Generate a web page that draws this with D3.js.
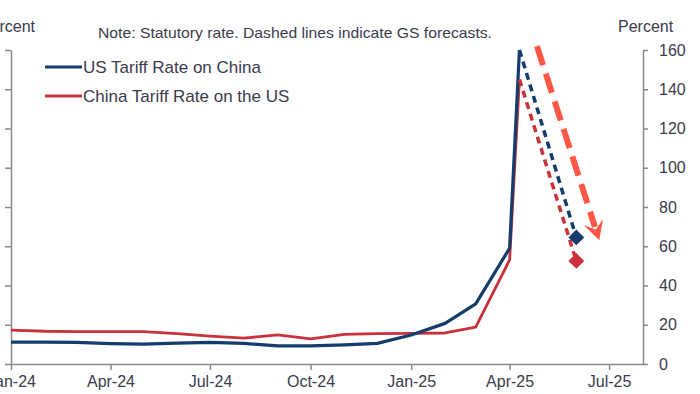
<!DOCTYPE html>
<html>
<head>
<meta charset="utf-8">
<script src="https://cdn.jsdelivr.net/npm/d3@7"></script>
<style>
  body { margin: 0; background: #fff; }
  text { font-family: "Liberation Sans", Arial, sans-serif; fill: #3b3b4d; }
</style>
</head>
<body>
<div id="chart"></div>
<script>
// Monthly observations (first of month) plus the April 10 peak
const dates = ["2024-01-01", "2024-02-01", "2024-03-01", "2024-04-01", "2024-05-01", "2024-06-01",
  "2024-07-01", "2024-08-01", "2024-09-01", "2024-10-01", "2024-11-01", "2024-12-01",
  "2025-01-01", "2025-02-01", "2025-03-01", "2025-04-01", "2025-04-10"];
const usOnChina = [11.1, 11.1, 11.0, 10.4, 10.1, 10.6, 11.0, 10.5, 9.2, 9.2, 9.7, 10.5, 14.8, 20.7, 30.6, 59, 160];
const chinaOnUs = [17.3, 16.7, 16.5, 16.5, 16.5, 15.5, 14.2, 13.2, 14.8, 12.8, 15.1, 15.5, 15.6, 15.8, 18.8, 53, 145];

// GS forecasts (dashed, from the peak)
const forecastDates = ["2025-04-10", "2025-06-01"];
const usForecast = [160, 64.5];
const chinaForecast = [145, 52.5];

// big annotation arrow (date, percent)
const arrowDates = ["2025-04-26", "2025-06-22"];
const arrowValues = [162, 63];

const yTicks = [0, 20, 40, 60, 80, 100, 120, 140, 160];

const parse = d3.timeParse("%Y-%m-%d");
const width = 700, height = 394;
const blue = "#143c6c", red = "#c9323b", arrowCol = "#ff5646";

const svg = d3.select("#chart").append("svg")
  .attr("width", width)
  .attr("height", height);

const x = d3.scaleTime()
  .domain([parse("2024-01-01"), parse("2025-08-01")])
  .range([11, 643]);

const y = d3.scaleLinear()
  .domain([0, 160])
  .range([364, 50]);

// Axes
const axisColor = "#8a8a8a";

const gx = svg.append("g")
  .attr("transform", "translate(0,364)")
  .call(d3.axisBottom(x).ticks(d3.timeMonth.every(3)).tickFormat(d3.timeFormat("%b-%y")).tickSize(6).tickSizeOuter(0).tickPadding(6));
gx.selectAll("text").style("font-size", "16px");

const gl = svg.append("g")
  .attr("transform", "translate(11,0)")
  .call(d3.axisLeft(y).tickValues(yTicks).tickFormat("").tickSize(6).tickSizeOuter(0));

const gr = svg.append("g")
  .attr("transform", "translate(643,0)")
  .call(d3.axisRight(y).tickValues(yTicks).tickSize(5).tickSizeOuter(0).tickPadding(11));
gr.selectAll("text").style("font-size", "16px").attr("text-anchor", "start");

[gx, gl, gr].forEach(g => {
  g.selectAll("path, line").attr("stroke", axisColor).attr("stroke-width", 1.5);
  g.selectAll("text").attr("fill", "#3b3b4d").style("font-family", "'Liberation Sans', Arial, sans-serif");
});

// Series
const line = d3.line()
  .x(d => x(d.date))
  .y(d => y(d.value));

const usData = dates.map((d, i) => ({ date: parse(d), value: usOnChina[i] }));
const cnData = dates.map((d, i) => ({ date: parse(d), value: chinaOnUs[i] }));
const usFc = forecastDates.map((d, i) => ({ date: parse(d), value: usForecast[i] }));
const cnFc = forecastDates.map((d, i) => ({ date: parse(d), value: chinaForecast[i] }));

svg.append("path").datum(cnData)
  .attr("d", line).attr("fill", "none")
  .attr("stroke", red).attr("stroke-width", 2.8).attr("stroke-linejoin", "round");

svg.append("path").datum(usData)
  .attr("d", line).attr("fill", "none")
  .attr("stroke", blue).attr("stroke-width", 3.2).attr("stroke-linejoin", "round");

svg.append("path").datum(cnFc)
  .attr("d", line).attr("fill", "none")
  .attr("stroke", red).attr("stroke-width", 3.5).attr("stroke-dasharray", "7,5");

svg.append("path").datum(usFc)
  .attr("d", line).attr("fill", "none")
  .attr("stroke", blue).attr("stroke-width", 3.5).attr("stroke-dasharray", "7,5");

// Forecast diamonds
const diamond = d3.symbol().type(d3.symbolSquare).size(125);
[[cnFc[1], red], [usFc[1], blue]].forEach(([d, c]) => {
  svg.append("path")
    .attr("d", diamond)
    .attr("transform", "translate(" + x(d.date) + "," + y(d.value) + ") rotate(45)")
    .attr("fill", c);
});

// Big dashed arrow
const ax0 = x(parse(arrowDates[0])), ay0 = y(arrowValues[0]);
const ax1 = x(parse(arrowDates[1])), ay1 = y(arrowValues[1]);
const ang = Math.atan2(ay1 - ay0, ax1 - ax0);
const headLen = 19, headW = 10;
const bx = ax1 - headLen * 0.75 * Math.cos(ang), by = ay1 - headLen * 0.75 * Math.sin(ang);

svg.append("line")
  .attr("x1", ax0).attr("y1", ay0).attr("x2", bx).attr("y2", by)
  .attr("stroke", arrowCol).attr("stroke-width", 6)
  .attr("stroke-dasharray", "20,9");

const px = -Math.sin(ang), py = Math.cos(ang);
const baseX = ax1 - headLen * Math.cos(ang), baseY = ay1 - headLen * Math.sin(ang);
const notchX = ax1 - headLen * 0.6 * Math.cos(ang), notchY = ay1 - headLen * 0.6 * Math.sin(ang);
svg.append("path")
  .attr("d", "M" + ax1 + "," + ay1 +
    "L" + (baseX + px * headW) + "," + (baseY + py * headW) +
    "L" + notchX + "," + notchY +
    "L" + (baseX - px * headW) + "," + (baseY - py * headW) + "Z")
  .attr("fill", arrowCol);

// Legend
const legend = [["US Tariff Rate on China", blue, 67], ["China Tariff Rate on the US", red, 96]];
legend.forEach(([label, c, ly]) => {
  svg.append("line")
    .attr("x1", 45).attr("x2", 82).attr("y1", ly).attr("y2", ly)
    .attr("stroke", c).attr("stroke-width", 3);
  svg.append("text")
    .attr("x", 83).attr("y", ly + 6)
    .attr("font-size", "17px")
    .text(label);
});

// Titles and note
svg.append("text")
  .attr("x", 35).attr("y", 32)
  .attr("text-anchor", "end")
  .attr("font-size", "16px")
  .text("Percent");

svg.append("text")
  .attr("x", 618).attr("y", 32)
  .attr("font-size", "16px")
  .text("Percent");

svg.append("text")
  .attr("x", 98).attr("y", 38)
  .attr("font-size", "15px")
  .attr("textLength", 394)
  .attr("lengthAdjust", "spacingAndGlyphs")
  .text("Note: Statutory rate. Dashed lines indicate GS forecasts.");
</script>
</body>
</html>
